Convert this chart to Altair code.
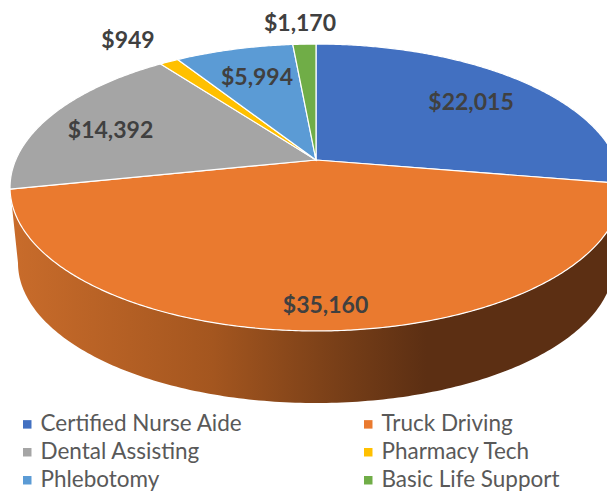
import math
import altair as alt

categories = ["Certified Nurse Aide", "Truck Driving", "Dental Assisting",
              "Pharmacy Tech", "Phlebotomy", "Basic Life Support"]
values = [22015, 35160, 14392, 949, 5994, 1170]
labels = ["$22,015", "$35,160", "$14,392", "$949", "$5,994", "$1,170"]
colors = ["#4270C1", "#EA7A2F", "#A5A5A5", "#FFC000", "#5B9BD5", "#70AD47"]

# label centres in page pixels
label_x = [471, 325.5, 110.5, 128, 257, 300]
label_y = [103, 306, 131, 41, 78, 24]

M = 8          # page margin
CX, CY = 316, 160   # apex of the tilted pie
K, A, C = 0.1916, 138.2, 300.3  # perspective of the disc


def disc(deg):
    t = math.radians(deg)
    X, Y = math.sin(t), math.cos(t)
    w = 1 + K * Y
    return [CX + C * X / w - M, CY - A * Y / w - M]


total = sum(values)
features = []
start = 0.0
for cat, v in zip(categories, values):
    end = start + v / total * 360
    n = max(2, int((end - start) * 2))
    ring = [[CX - M, CY - M]] + [disc(start + (end - start) * i / n) for i in range(n + 1)] + [[CX - M, CY - M]]
    features.append({"type": "Feature", "properties": {"category": cat},
                     "geometry": {"type": "Polygon", "coordinates": [ring]}})
    start = end

top_rim = [[316 + 306 * math.cos(math.radians(t)) - M, 187.5 - 143.5 * math.sin(math.radians(t)) - M]
           for t in range(180, 361, 1)]
bottom_rim = [[316 + 298 * math.cos(math.radians(t)) - M, 263 - 140 * math.sin(math.radians(t)) - M]
              for t in range(360, 179, -1)]
wall_ring = top_rim + bottom_rim + [top_rim[0]]
wall_feature = {"type": "Feature", "properties": {"category": "wall"},
                "geometry": {"type": "Polygon", "coordinates": [wall_ring]}}

proj = dict(type="identity", scale=1, translate=[0, 0])

wall = alt.Chart(alt.Data(values=[wall_feature])).mark_geoshape(
    clip=True,
    strokeWidth=0,
    fill=alt.Gradient(gradient="linear", x1=0, y1=0, x2=1, y2=0, stops=[
        alt.GradientStop(offset=0, color="#C96C2B"),
        alt.GradientStop(offset=0.33, color="#A4561F"),
        alt.GradientStop(offset=0.56, color="#733C17"),
        alt.GradientStop(offset=0.68, color="#5C2F13"),
        alt.GradientStop(offset=1, color="#5C2F13"),
    ]),
).project(**proj)

slices = alt.Chart(alt.Data(values=features)).mark_geoshape(
    clip=True, stroke="#FFFFFF", strokeWidth=1.2
).encode(
    color=alt.Color(
        "properties.category:N",
        scale=alt.Scale(domain=categories, range=colors),
        sort=categories,
        legend=alt.Legend(
            title=None, orient="none", legendX=8, legendY=405,
            direction="horizontal", columns=2, symbolType="square", symbolSize=72,
            symbolStrokeWidth=0, labelFont="Lato", labelFontSize=22.5, labelColor="#595959",
            labelOffset=2, labelLimit=300, rowPadding=5, columnPadding=114, gridAlign="each",
        ),
    )
).project(**proj)

text_layers = []
for lab, lx, ly in zip(labels, label_x, label_y):
    text_layers.append(
        alt.Chart(alt.Data(values=[{"label": lab}])).mark_text(
            font="Lato", fontSize=23, fontWeight="bold", color="#404040",
            align="center", baseline="middle",
        ).encode(x=alt.value(lx - M), y=alt.value(ly - M), text="label:N")
    )

chart = alt.layer(wall, slices, *text_layers).properties(
    width=599, height=486, padding=0, autosize=alt.AutoSizeParams(type="none")
).configure_view(stroke=None)

chart.save("out.html", embed_options={"renderer": "svg", "actions": False})
